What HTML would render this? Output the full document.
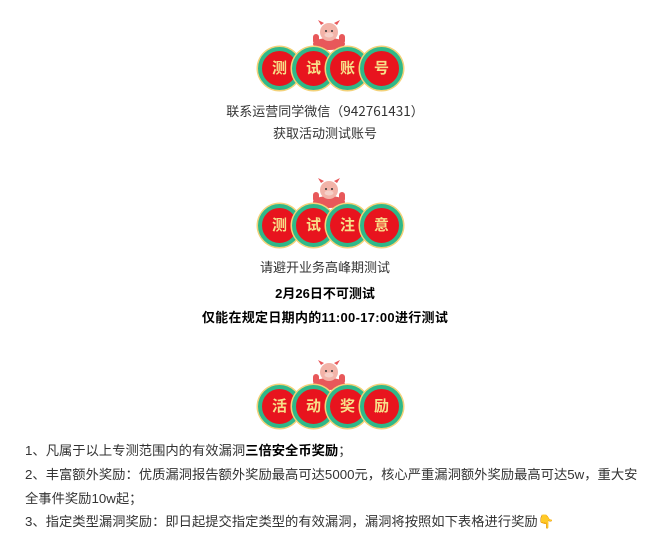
<!DOCTYPE html>
<html><head><meta charset="utf-8"><style>
body{margin:0;width:650px;height:537px;background:#fff;position:relative;overflow:hidden;font-family:"Liberation Sans","Noto Sans CJK SC",sans-serif;}
.c{position:absolute;width:35px;height:35px;border-radius:50%;background:#e8141e;border:4px solid #2fb889;box-shadow:0 0 0 1.5px #f3d27a;color:#f7e08a;font-weight:bold;font-size:15px;text-align:center;line-height:35px;}
.t{position:absolute;left:0;width:650px;text-align:center;font-size:13px;color:#333;line-height:18px;}
.b{font-weight:bold;color:#000;}
.l{position:absolute;left:25px;font-size:13.3px;color:#333;line-height:18px;white-space:nowrap;}
.m{position:absolute;width:40px;height:30px;}
</style></head><body>

<svg class="m" style="left:309px;top:20px" viewBox="0 0 40 30"><ellipse cx="20" cy="24" rx="16" ry="6" fill="#e8585a"/><rect x="4" y="14" width="6" height="10" rx="3" fill="#e8585a"/><rect x="30" y="14" width="6" height="10" rx="3" fill="#e8585a"/><circle cx="20" cy="12" r="9" fill="#f2b3a8"/><path d="M12 5 L9 0 L15 3Z M28 5 L31 0 L25 3Z" fill="#e8585a"/><ellipse cx="20" cy="15" rx="4.5" ry="2.5" fill="#f6d0c8"/><circle cx="17" cy="11" r="1" fill="#333"/><circle cx="23" cy="11" r="1" fill="#333"/></svg>
<div class="c" style="left:258px;top:47px">测</div>
<div class="c" style="left:292px;top:47px">试</div>
<div class="c" style="left:326px;top:47px">账</div>
<div class="c" style="left:360px;top:47px">号</div>
<div class="t" style="top:101px">联系运营同学微信（<span style="font-family:'Noto Sans CJK SC',sans-serif;font-size:13.5px">942761431</span>）</div>
<div class="t" style="top:125px">获取活动测试账号</div>

<svg class="m" style="left:309px;top:178px" viewBox="0 0 40 30"><ellipse cx="20" cy="24" rx="16" ry="6" fill="#e8585a"/><rect x="4" y="14" width="6" height="10" rx="3" fill="#e8585a"/><rect x="30" y="14" width="6" height="10" rx="3" fill="#e8585a"/><circle cx="20" cy="12" r="9" fill="#f2b3a8"/><path d="M12 5 L9 0 L15 3Z M28 5 L31 0 L25 3Z" fill="#e8585a"/><ellipse cx="20" cy="15" rx="4.5" ry="2.5" fill="#f6d0c8"/><circle cx="17" cy="11" r="1" fill="#333"/><circle cx="23" cy="11" r="1" fill="#333"/></svg>
<div class="c" style="left:258px;top:204px">测</div>
<div class="c" style="left:292px;top:204px">试</div>
<div class="c" style="left:326px;top:204px">注</div>
<div class="c" style="left:360px;top:204px">意</div>
<div class="t" style="top:259px">请避开业务高峰期测试</div>
<div class="t b" style="top:285px">2月26日不可测试</div>
<div class="t b" style="top:309px;letter-spacing:0.3px">仅能在规定日期内的11:00-17:00进行测试</div>

<svg class="m" style="left:309px;top:360px" viewBox="0 0 40 30"><ellipse cx="20" cy="24" rx="16" ry="6" fill="#e8585a"/><rect x="4" y="14" width="6" height="10" rx="3" fill="#e8585a"/><rect x="30" y="14" width="6" height="10" rx="3" fill="#e8585a"/><circle cx="20" cy="12" r="9" fill="#f2b3a8"/><path d="M12 5 L9 0 L15 3Z M28 5 L31 0 L25 3Z" fill="#e8585a"/><ellipse cx="20" cy="15" rx="4.5" ry="2.5" fill="#f6d0c8"/><circle cx="17" cy="11" r="1" fill="#333"/><circle cx="23" cy="11" r="1" fill="#333"/></svg>
<div class="c" style="left:258px;top:385px">活</div>
<div class="c" style="left:292px;top:385px">动</div>
<div class="c" style="left:326px;top:385px">奖</div>
<div class="c" style="left:360px;top:385px">励</div>

<div class="l" style="top:442px">1、凡属于以上专测范围内的有效漏洞<span class="b">三倍安全币奖励</span>；</div>
<div class="l" style="top:466px">2、丰富额外奖励：优质漏洞报告额外奖励最高可达5000元，核心严重漏洞额外奖励最高可达5w，重大安</div>
<div class="l" style="top:490px">全事件奖励10w起；</div>
<div class="l" style="top:513px">3、指定类型漏洞奖励：即日起提交指定类型的有效漏洞，漏洞将按照如下表格进行奖励<span style="color:#e8b030">👇</span></div>
</body></html>
